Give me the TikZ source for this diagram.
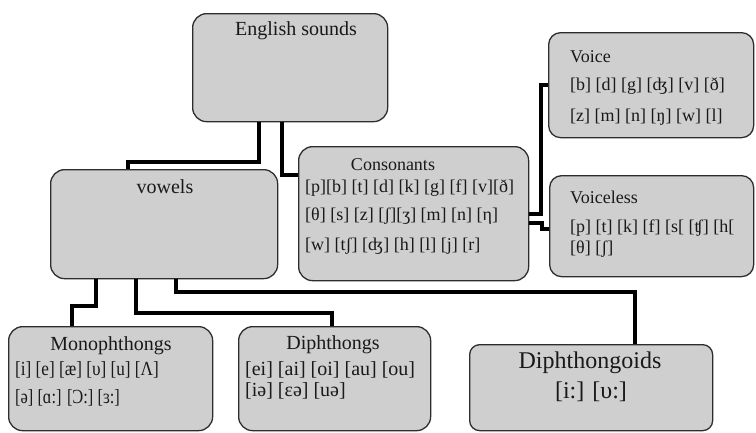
\documentclass[tikz,border=0pt]{standalone}
\usepackage{fontspec}
\usepackage{graphicx}
\setmainfont{Liberation Serif}
\definecolor{boxfill}{RGB}{207,207,207}
\definecolor{boxline}{RGB}{45,45,45}
\definecolor{txt}{RGB}{25,25,25}
\begin{document}
\begin{tikzpicture}[x=1pt,y=-1pt,
 box/.style={draw=boxline, fill=boxfill, line width=1.3pt, rounded corners=14pt, inner sep=0pt, anchor=north west},
 conn/.style={draw=black, line width=4pt},
 tA/.style={inner sep=0pt, text=txt, font=\fontsize{20}{24}\selectfont},
 tB/.style={inner sep=0pt, text=txt, font=\fontsize{18}{22}\selectfont},
 tC/.style={inner sep=0pt, text=txt, font=\fontsize{24}{28}\selectfont}]
\useasboundingbox (0,0) rectangle (756,432);
% boxes
\node[box, minimum width=195pt, minimum height=108pt] (eng) at (192,13) {};
\node[box, minimum width=227pt, minimum height=109pt] (vow) at (50,169) {};
\node[box, minimum width=230pt, minimum height=134pt] (cons) at (298,146) {};
\node[box, minimum width=205pt, minimum height=105pt, rounded corners=12pt] (voice) at (548,32) {};
\node[box, minimum width=204pt, minimum height=101pt, rounded corners=12pt] (vless) at (549,175) {};
\node[box, minimum width=204pt, minimum height=104pt] (mono) at (8,326) {};
\node[box, minimum width=192pt, minimum height=104pt] (diph) at (238,326) {};
\node[box, minimum width=243pt, minimum height=86pt, rounded corners=10pt] (dioid) at (469,344) {};
% connectors
\draw[conn] ([xshift=67pt]eng.south west) -- ++(0,40) -| ([xshift=78pt]vow.north west);
\draw[conn] ([xshift=90pt]eng.south west) |- ([yshift=-29pt]cons.north west);
\draw[conn] (cons.east) -- ++(12,0) |- (voice.west);
\draw[conn] ([yshift=-9pt]cons.east) -- ++(13,0) -- ++(0,6) -- ([yshift=-2.5pt]vless.west);
\draw[conn] ([xshift=46pt]vow.south west) -- ++(0,27) -| ([xshift=64pt]mono.north west);
\draw[conn] ([xshift=86pt]vow.south west) -- ++(0,34) -| ([xshift=94pt]diph.north west);
\draw[conn] ([xshift=126pt]vow.south west) -- ++(0,13) -| ([xshift=166pt]dioid.north west);
% texts
\node[tA, anchor=base] (tEng) at (296,35) {English sounds};
\node[tA, anchor=base] (tVow) at (165,193) {vowels};
\node[tB, anchor=base] (tCon) at (393,170) {Consonants};
\node[tB, anchor=base west] (c1) at (305,192) {[p][b] [t] [d] [k] [g] [f] [v][ð]};
\node[tB, anchor=base west] (c2) at (305,220) {[θ] [s] [z] [ʃ][ʒ] [m] [n] [η]};
\node[tB, anchor=base west] (c3) at (305,250) {[w] [tʃ] [ʤ] [h] [l] [j] [r]};
\node[tB, anchor=base west] (tVoice) at (570,62) {Voice};
\node[tB, anchor=base west] (v1) at (570,90) {[b] [d] [g] [ʤ] [v] [ð]};
\node[tB, anchor=base west] (v2) at (570,121) {[z] [m] [n] [ŋ] [w] [l]};
\node[tB, anchor=base west] (tVless) at (570,203) {Voiceless};
\node[tB, anchor=base west] (u1) at (570,232) {[p] [t] [k] [f] [s[ [ʧ] [h[};
\node[tB, anchor=base west] (u2) at (570,253) {[θ] [ʃ]};
\node[tA, anchor=base] (tMono) at (111,350) {Monophthongs};
\node[tA, anchor=base west] (m1) at (15,375) {\scalebox{0.86}[1]{[i] [e] [æ] [υ] [u] [Λ]}};
\node[tA, anchor=base west] (m2) at (15,403) {\scalebox{0.82}[1]{[ə] [ɑ:] [Ɔ:] [ɜ:]}};
\node[tA, anchor=base] (tDiph) at (333,349) {Diphthongs};
\node[tA, anchor=base west] (d1) at (245,375) {[ei] [ai] [oi] [au] [ou]};
\node[tA, anchor=base west] (d2) at (245,396) {[iə] [εə] [uə]};
\node[tC, anchor=base] (tDioid) at (590,368) {Diphthongoids};
\node[tC, anchor=base] (g1) at (591,398) {[i:] [υ:]};
\end{tikzpicture}
\end{document}
